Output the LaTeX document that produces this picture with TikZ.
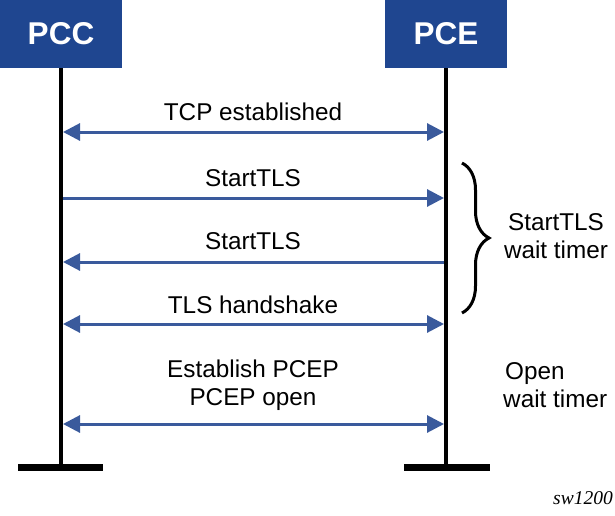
\documentclass[tikz,border=0pt]{standalone}
\usepackage{fontspec}
\setmainfont{Liberation Sans}
\newfontfamily\figfont{Liberation Serif}
\usetikzlibrary{arrows.meta, decorations.pathreplacing}
\definecolor{boxblue}{HTML}{1F4690}
\definecolor{msgblue}{HTML}{3A5A9C}

\begin{document}
\begin{tikzpicture}[x=1pt, y=-1pt,
	entity/.style={fill=boxblue, text=white, font=\fontsize{31.5}{31}\selectfont\bfseries, minimum width=122pt, minimum height=68pt, inner sep=0pt},
	lifeline/.style={line width=3.5pt},
	foot/.style={line width=7pt},
	msg/.style={draw=msgblue, line width=3pt, -{Triangle[length=17pt, width=17pt]}},
	dmsg/.style={msg, {Triangle[length=17pt, width=17pt]}-{Triangle[length=17pt, width=17pt]}},
	lbl/.style={font=\fontsize{24.3}{28}\selectfont, align=center, inner sep=0pt}]
	\useasboundingbox (0,0) rectangle (615,516);

	\node[entity] (PCC) at (61,34)  {PCC};
	\node[entity] (PCE) at (446,34) {PCE};

	\coordinate (PCCend) at (61,467);
	\coordinate (PCEend) at (446,467);
	\draw[lifeline] (PCC.south) -- (PCCend);
	\draw[lifeline] (PCE.south) -- (PCEend);
	\draw[foot] (18,467) -- (103,467);
	\draw[foot] (404,467) -- (490,467);

	% messages
	\coordinate (L1) at (63,132); \coordinate (R1) at (444,132);
	\coordinate (L2) at (63,198); \coordinate (R2) at (444,198);
	\coordinate (L3) at (63,262); \coordinate (R3) at (444,262);
	\coordinate (L4) at (63,324); \coordinate (R4) at (444,324);
	\coordinate (L5) at (63,424); \coordinate (R5) at (444,424);

	\draw[dmsg] (L1) -- (R1);
	\draw[msg]  (L2) -- (R2);
	\draw[msg]  (R3) -- (L3);
	\draw[dmsg] (L4) -- (R4);
	\draw[dmsg] (L5) -- (R5);

	\node[lbl] (tcp)   at (253,112) {TCP established};
	\node[lbl] (tls1)  at (253,178) {StartTLS};
	\node[lbl] (tls2)  at (253,241) {StartTLS};
	\node[lbl] (hand)  at (253,305) {TLS handshake};
	\node[lbl] (pcep)  at (253,385) {Establish PCEP\\PCEP open};

	% timers
	\coordinate (BrTop) at (462,163);
	\coordinate (BrBot) at (462,313);
	\draw[line width=3pt, decorate, decoration={brace, amplitude=27pt}] (BrTop) -- (BrBot);
	\node[lbl] (tlswait)  at (556,236) {StartTLS\\wait timer};
	\node[lbl, anchor=west, align=left] (openwait) at (503,385) {\hspace{2pt}Open\\wait timer};

	\node[font=\figfont\itshape\fontsize{19.5}{19}\selectfont, anchor=east, inner sep=0pt] (fig) at (613,498) {sw1200};
\end{tikzpicture}
\end{document}
